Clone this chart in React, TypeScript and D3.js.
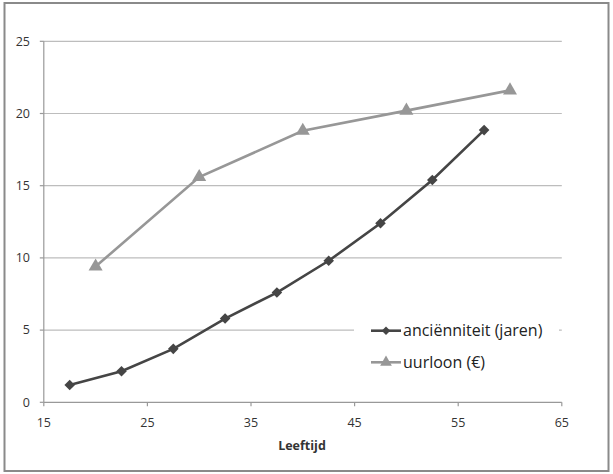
import React from "react";
import * as d3 from "d3";

const ageAnc = [17.5, 22.5, 27.5, 32.5, 37.5, 42.5, 47.5, 52.5, 57.5];
const ancValues = [1.2, 2.15, 3.7, 5.8, 7.6, 9.8, 12.4, 15.4, 18.85];
const ageLoon = [20, 30, 40, 50, 60];
const loonValues = [9.4, 15.6, 18.8, 20.2, 21.6];
const xTicks = [15, 25, 35, 45, 55, 65];
const yTicks = [0, 5, 10, 15, 20, 25];
const seriesNames = ["anciënniteit (jaren)", "uurloon (€)"];
const xTitle = "Leeftijd";

const W = 613;
const H = 474;
const FONT = "'Open Sans', 'DejaVu Sans', sans-serif";

export default function App() {
  const x = d3.scaleLinear().domain([15, 65]).range([43.8, 561.8]);
  const y = d3.scaleLinear().domain([0, 25]).range([402.3, 41.3]);
  const line = d3.line<[number, number]>().x((d) => x(d[0])).y((d) => y(d[1]));
  const ancPts: [number, number][] = ageAnc.map((a, i) => [a, ancValues[i]]);
  const loonPts: [number, number][] = ageLoon.map((a, i) => [a, loonValues[i]]);
  const diamond = d3.symbol().type(d3.symbolSquare).size(56)() as string;
  const triangle = d3.symbol().type(d3.symbolTriangle).size(85)() as string;
  const legDiamond = d3.symbol().type(d3.symbolSquare).size(36)() as string;
  const legTriangle = d3.symbol().type(d3.symbolTriangle).size(60)() as string;
  const dark = "#454545";
  const light = "#979797";
  const legX = 371;
  const legY = [330.7, 362.3];

  return (
    <svg width={W} height={H} style={{ position: "absolute", left: 0, top: 0, background: "#fff" }}>
      <rect x={4.5} y={3} width={604} height={468} fill="#fff" stroke="#8a8a8a" strokeWidth={2} />
      {yTicks.filter((t) => t > 0).map((t) => (
        <line key={"g" + t} x1={x(15)} x2={x(65)} y1={y(t)} y2={y(t)} stroke="#bdbdbd" strokeWidth={1.2} />
      ))}
      <line x1={x(15)} x2={x(15)} y1={y(0)} y2={y(25)} stroke="#999" strokeWidth={1.2} />
      <line x1={x(15)} x2={x(65)} y1={y(0)} y2={y(0)} stroke="#999" strokeWidth={1.2} />
      {yTicks.map((t) => (
        <g key={"y" + t}>
          <line x1={x(15) - 4} x2={x(15)} y1={y(t)} y2={y(t)} stroke="#999" strokeWidth={1.2} />
          <text x={30} y={y(t)} dy="0.35em" textAnchor="end" fontFamily={FONT} fontSize={12.5} fill="#333">
            {t}
          </text>
        </g>
      ))}
      {xTicks.map((t) => (
        <g key={"x" + t}>
          <line x1={x(t)} x2={x(t)} y1={y(0)} y2={y(0) + 4} stroke="#999" strokeWidth={1.2} />
          <text x={x(t)} y={422.7} dy="0.35em" textAnchor="middle" fontFamily={FONT} fontSize={12.5} fill="#333">
            {t}
          </text>
        </g>
      ))}
      <text x={302} y={445.7} dy="0.35em" textAnchor="middle" fontFamily={FONT} fontSize={12.5} fontWeight="bold" fill="#333">
        {xTitle}
      </text>
      <rect x={354} y={314} width={205} height={64} fill="#fff" />
      <path d={line(loonPts) as string} fill="none" stroke={light} strokeWidth={2.6} />
      {loonPts.map((p, i) => (
        <path key={"t" + i} d={triangle} transform={`translate(${x(p[0])},${y(p[1])})`} fill={light} />
      ))}
      <path d={line(ancPts) as string} fill="none" stroke={dark} strokeWidth={2.6} />
      {ancPts.map((p, i) => (
        <path key={"d" + i} d={diamond} transform={`translate(${x(p[0])},${y(p[1])}) rotate(45)`} fill={dark} />
      ))}
      {seriesNames.map((n, i) => (
        <g key={"l" + i}>
          <line x1={legX} x2={legX + 30} y1={legY[i]} y2={legY[i]} stroke={i === 0 ? dark : light} strokeWidth={2.6} />
          <path
            d={i === 0 ? legDiamond : legTriangle}
            transform={`translate(${legX + 15},${legY[i]})${i === 0 ? " rotate(45)" : ""}`}
            fill={i === 0 ? dark : light}
          />
          <text x={legX + 32} y={legY[i]} dy="0.35em" fontFamily={FONT} fontSize={16} fill="#222">
            {n}
          </text>
        </g>
      ))}
    </svg>
  );
}
